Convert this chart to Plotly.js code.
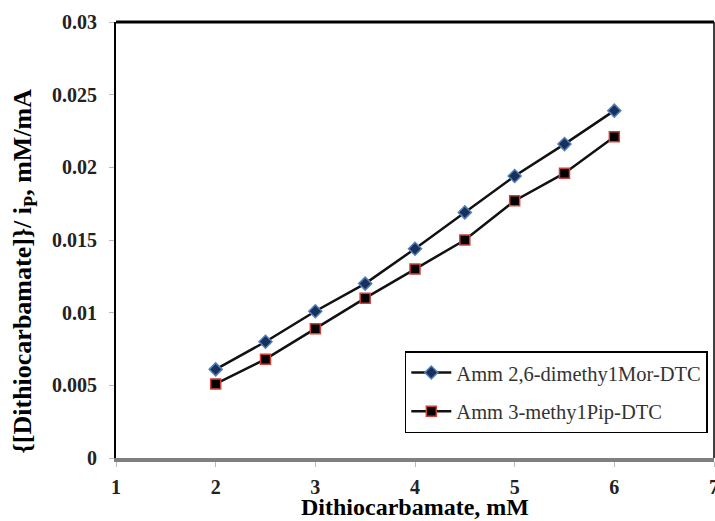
<!DOCTYPE html>
<html>
<head>
<meta charset="utf-8">
<script src="https://cdn.plot.ly/plotly-3.0.1.min.js"></script>
<style>html,body{margin:0;padding:0;background:#fff;}#chart{width:715px;height:521px;}</style>
</head>
<body>
<div id="chart"></div>
<script>
const concentration = [2, 2.5, 3, 3.5, 4, 4.5, 5, 5.5, 6];
const dimethylMor = [0.0061, 0.0080, 0.0101, 0.0120, 0.0144, 0.0169, 0.0194, 0.0216, 0.0239];
const methylPip = [0.0051, 0.0068, 0.0089, 0.0110, 0.0130, 0.0150, 0.0177, 0.0196, 0.0221];
const seriesNames = ["Amm 2,6-dimethy1Mor-DTC", "Amm 3-methy1Pip-DTC"];
const xTitle = "Dithiocarbamate, mM";
const yTitle = "{[Dithiocarbamate]}/ i<sub>P</sub>, mM/mA";

const serif = "Liberation Serif, Times New Roman, serif";

const traces = [
  {
    x: concentration, y: dimethylMor, name: seriesNames[0], type: "scatter", mode: "lines+markers",
    legendgroup: "a",
    line: {color: "#111", width: 2.5},
    marker: {symbol: "diamond", size: 10, color: "#1a2f5a", line: {color: "#4f81bd", width: 1.5}}
  },
  {
    x: concentration, y: methylPip, name: seriesNames[1], type: "scatter", mode: "lines+markers",
    legendgroup: "b",
    line: {color: "#111", width: 2.5},
    marker: {symbol: "square", size: 10, color: "#000", line: {color: "#d0403a", width: 1.5}}
  }
];

const layout = {
  width: 715, height: 521,
  margin: {l: 116, r: 1, t: 22, b: 63},
  paper_bgcolor: "#fff", plot_bgcolor: "#fff",
  showlegend: true,
  legend: {
    x: 0.483, y: 0.245, xanchor: "left", yanchor: "top",
    bgcolor: "#fff", bordercolor: "#000", borderwidth: 1.5,
    font: {family: serif, size: 20.5, color: "#333"},
    tracegroupgap: 9,
    itemwidth: 40
  },
  xaxis: {
    range: [1, 7], dtick: 1, tick0: 1,
    showgrid: false, zeroline: false,
    showline: true, linecolor: "#7f7f7f", linewidth: 4,
    ticks: "outside", ticklen: 5, tickcolor: "#bbb", tickwidth: 1,
    ticklabelstandoff: 3,
    ticklabeloverflow: "allow",
    tickfont: {family: serif, size: 20, color: "#222", weight: 700}
  },
  yaxis: {
    range: [0, 0.03], dtick: 0.005, tick0: 0,
    showgrid: false, zeroline: false,
    showline: true, linecolor: "#000", linewidth: 2,
    ticks: "outside", ticklen: 5, tickcolor: "#bbb", tickwidth: 1,
    ticklabelstandoff: 8,
    tickfont: {family: serif, size: 20, color: "#222", weight: 700}
  },
  shapes: [
    {type: "line", xref: "paper", yref: "paper", x0: 0, x1: 1, y0: 1, y1: 1, line: {color: "#000", width: 3}},
    {type: "line", xref: "paper", yref: "paper", x0: 1, x1: 1, y0: 0, y1: 1, line: {color: "#000", width: 1.5}}
  ],
  annotations: [
    {text: xTitle, xref: "paper", yref: "paper", x: 0.5, y: -0.147, xanchor: "center", yanchor: "bottom",
     showarrow: false, font: {family: serif, size: 24, color: "#000", weight: 700}},
    {text: yTitle, xref: "paper", yref: "paper", x: -0.154, y: 0.43, xanchor: "center", yanchor: "middle",
     textangle: -90, showarrow: false, font: {family: serif, size: 26, color: "#000", weight: 700}}
  ]
};

Plotly.newPlot("chart", traces, layout, {displayModeBar: false, staticPlot: true});
</script>
</body>
</html>
